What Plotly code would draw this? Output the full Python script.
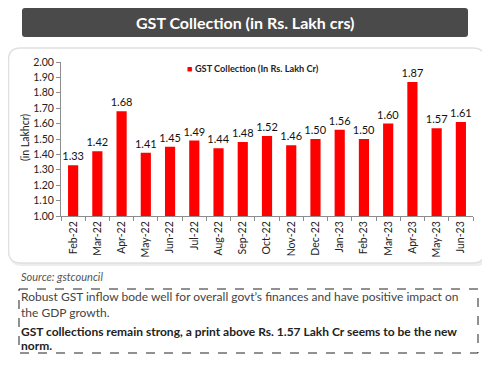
import plotly.graph_objects as go

months = ["Feb-22", "Mar-22", "Apr-22", "May-22", "Jun-22", "Jul-22", "Aug-22", "Sep-22",
          "Oct-22", "Nov-22", "Dec-22", "Jan-23", "Feb-23", "Mar-23", "Apr-23", "May-23", "Jun-23"]
gst = [1.33, 1.42, 1.68, 1.41, 1.45, 1.49, 1.44, 1.48, 1.52, 1.46, 1.50, 1.56, 1.50, 1.60, 1.87, 1.57, 1.61]
y_ticks = [1.0, 1.1, 1.2, 1.3, 1.4, 1.5, 1.6, 1.7, 1.8, 1.9, 2.0]

# page body has an 8px margin, so the figure is drawn from (8, 8) of the window
OFF = 8
W, H = 490 - OFF, 366 - OFF
# plot area in window pixels
L, R, T, B = 61, 473, 62, 216
FONT = "Lato"


def px(x):
    return (x - L) / (R - L)


def py(y):
    return (B - y) / (B - T)


def rrect(x0, y0, x1, y1, r):
    a0, a1 = px(x0), px(x1)
    b0, b1 = py(y0), py(y1)
    rx = r / (R - L)
    ry = r / (B - T)
    return (f"M {a0+rx},{b0} L {a1-rx},{b0} Q {a1},{b0} {a1},{b0-ry} "
            f"L {a1},{b1+ry} Q {a1},{b1} {a1-rx},{b1} L {a0+rx},{b1} "
            f"Q {a0},{b1} {a0},{b1+ry} L {a0},{b0-ry} Q {a0},{b0} {a0+rx},{b0} Z")


fig = go.Figure()
fig.add_trace(go.Bar(
    x=months, y=gst, name="GST Collection (In Rs. Lakh Cr)",
    marker=dict(color="#ff0000", line=dict(width=0)),
    text=gst, texttemplate="%{y:.2f}", textposition="outside", constraintext="none",
    textfont=dict(family=FONT, size=11, color="#111111"),
    cliponaxis=False, showlegend=False,
))

shapes = [
    dict(type="path", xref="paper", yref="paper", path=rrect(9.5, 50, 488, 266, 12),
         fillcolor="rgba(0,0,0,0.07)", line=dict(width=0), layer="below"),
    dict(type="path", xref="paper", yref="paper", path=rrect(8.5, 48, 485, 263, 12),
         fillcolor="#ffffff", line=dict(color="#e0e0e0", width=1.5), layer="below"),
    dict(type="path", xref="paper", yref="paper", path=rrect(22, 8, 468, 37, 3),
         fillcolor="#4a4a4a", line=dict(width=0), layer="below"),
    dict(type="rect", xref="paper", yref="paper", x0=px(19), x1=px(478), y0=py(289), y1=py(353),
         line=dict(color="#222222", width=1, dash="dash"), fillcolor="rgba(0,0,0,0)"),
]

annotations = [
    dict(text="<b>GST Collection (in Rs. Lakh crs)</b>", x=px(245), y=py(22.5), xref="paper", yref="paper",
         showarrow=False, font=dict(family=FONT, size=16, color="#ffffff"), xanchor="center", yanchor="middle"),
    dict(text="(in Lakhcr)", x=px(25), y=py(138), xref="paper", yref="paper", textangle=-90,
         showarrow=False, font=dict(family=FONT, size=10.5, color="#222222"), xanchor="center", yanchor="middle"),
    dict(text="<span style='color:#ff0000'>■</span> <b>GST Collection (In Rs. Lakh Cr)</b>",
         x=px(185), y=py(69), xref="paper", yref="paper", showarrow=False,
         font=dict(family=FONT, size=9.2, color="#222222"), xanchor="left", yanchor="middle"),
    dict(text="<i>Source: gstcouncil</i>", x=px(19), y=py(276), xref="paper", yref="paper",
         showarrow=False, font=dict(family=FONT, size=11, color="#555555"), xanchor="left", yanchor="middle"),
    dict(text="Robust GST inflow bode well for overall govt\u2019s finances and have positive impact on",
         x=px(19), y=py(296.5), xref="paper", yref="paper", showarrow=False,
         font=dict(family=FONT, size=12, color="#444444"), xanchor="left", yanchor="middle"),
    dict(text="the GDP growth.", x=px(19), y=py(312), xref="paper", yref="paper", showarrow=False,
         font=dict(family=FONT, size=12, color="#444444"), xanchor="left", yanchor="middle"),
    dict(text="<b>GST collections remain strong, a print above Rs. 1.57 Lakh Cr seems to be the new</b>",
         x=px(19), y=py(331.5), xref="paper", yref="paper", showarrow=False,
         font=dict(family=FONT, size=12, color="#222222"), xanchor="left", yanchor="middle"),
    dict(text="<b>norm.</b>", x=px(19), y=py(345.5), xref="paper", yref="paper", showarrow=False,
         font=dict(family=FONT, size=12, color="#222222"), xanchor="left", yanchor="middle"),
]

fig.update_layout(
    width=W, height=H,
    margin=dict(l=L - OFF, r=490 - R, t=T - OFF, b=366 - B, pad=0),
    paper_bgcolor="#ffffff", plot_bgcolor="rgba(0,0,0,0)",
    bargap=0.58,
    shapes=shapes, annotations=annotations,
    font=dict(family=FONT, color="#222222"),
)
fig.update_yaxes(range=[1.0, 2.0], tickvals=y_ticks, tickformat=".2f",
                 showgrid=False, zeroline=False, showline=True, linecolor="#8c8c8c", linewidth=1,
                 ticks="outside", ticklen=4, tickcolor="#8c8c8c",
                 tickfont=dict(family=FONT, size=10.5, color="#222222"))
fig.update_xaxes(type="category", tickangle=-90, tickson="boundaries",
                 showgrid=False, showline=True, linecolor="#8c8c8c", linewidth=1,
                 ticks="outside", ticklen=4, tickcolor="#8c8c8c",
                 tickfont=dict(family=FONT, size=10.5, color="#222222"))

fig.write_html("out.html")
